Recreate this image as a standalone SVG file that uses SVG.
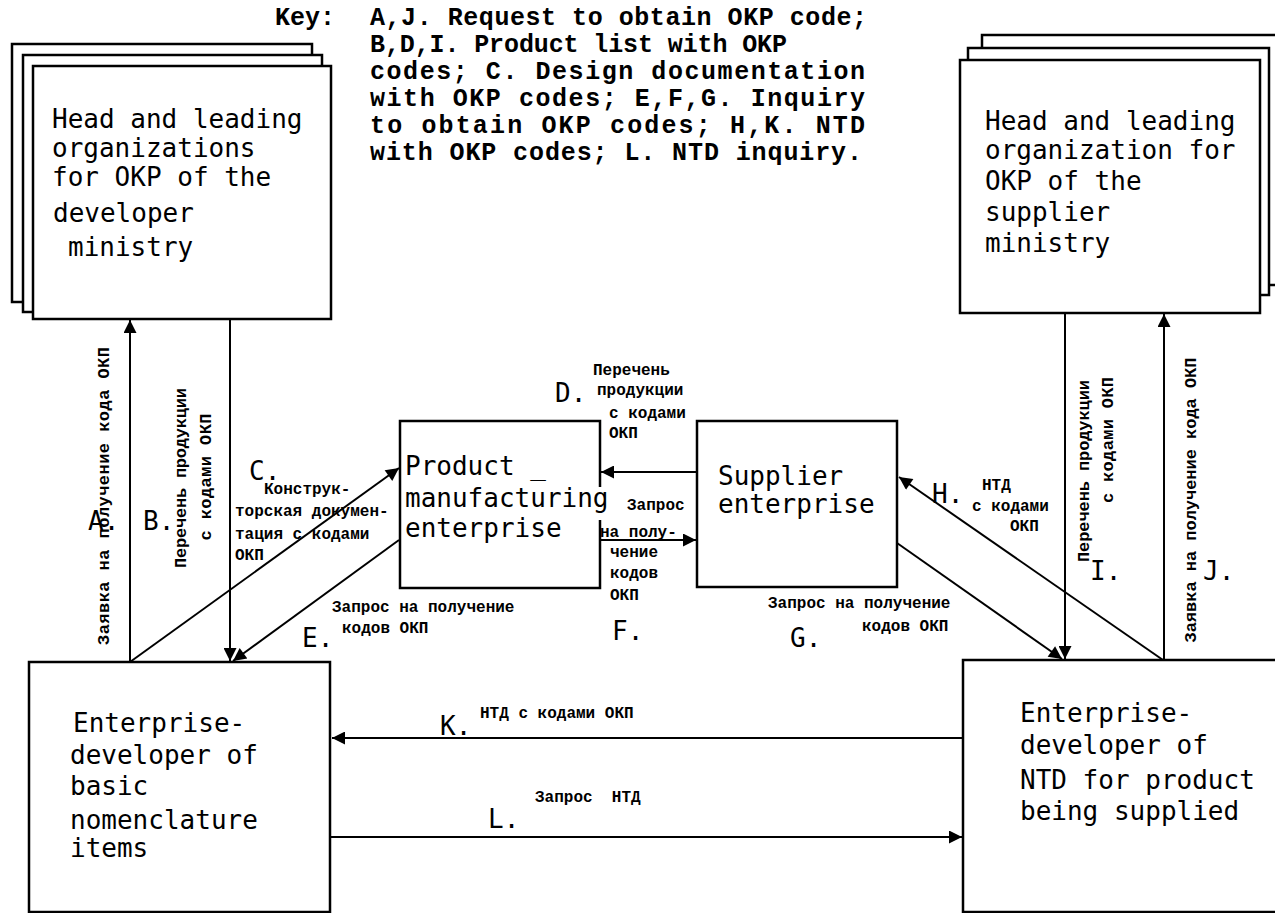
<svg xmlns="http://www.w3.org/2000/svg" width="1275" height="913" viewBox="0 0 1275 913">
<style>
.box{fill:#fff;stroke:#000;stroke-width:2.5}
.bt{font-family:"DejaVu Sans Mono",monospace;font-size:26px;fill:#000}
.key{font-family:"Liberation Mono",monospace;font-weight:bold;font-size:25px;fill:#000}
.lab{font-family:"Liberation Mono",monospace;font-weight:bold;font-size:16px;fill:#000}
.rot{font-family:"Liberation Mono",monospace;font-weight:bold;font-size:17px;fill:#000}
.let{font-family:"DejaVu Sans Mono",monospace;font-size:26px;fill:#000}
.c{stroke:#000;stroke-width:2;fill:none;marker-end:url(#ah)}
</style>
<defs>
<marker id="ah" viewBox="0 0 10 10" refX="10" refY="5" markerWidth="17" markerHeight="13" markerUnits="userSpaceOnUse" orient="auto"><path d="M0,0 L10,5 L0,10 z" fill="#000"/></marker>
</defs>
<rect width="1275" height="913" fill="#fff"/>

<g id="key">
<text class="key" x="275" y="25">Key:</text>
<text class="key" x="370" y="25" textLength="497">A,J. Request to obtain OKP code;</text>
<text class="key" x="370" y="52" textLength="417">B,D,I. Product list with OKP</text>
<text class="key" x="370" y="79" textLength="495">codes; C. Design documentation</text>
<text class="key" x="370" y="106" textLength="495">with OKP codes; E,F,G. Inquiry</text>
<text class="key" x="370" y="133" textLength="495">to obtain OKP codes; H,K. NTD</text>
<text class="key" x="370" y="160" textLength="492">with OKP codes; L. NTD inquiry.</text>
</g>

<g id="dev-ministry">
<rect class="box" x="12" y="44" width="300" height="258"/>
<rect class="box" x="23" y="55" width="299" height="257"/>
<rect class="box" x="33" y="66" width="298" height="253"/>
<text class="bt" x="52" y="128">Head and leading</text>
<text class="bt" x="52" y="157">organizations</text>
<text class="bt" x="52" y="186">for OKP of the</text>
<text class="bt" x="53" y="222">developer</text>
<text class="bt" x="68" y="256">ministry</text>
</g>

<g id="sup-ministry">
<rect class="box" x="982" y="35" width="300" height="250"/>
<rect class="box" x="968" y="48" width="301" height="247"/>
<rect class="box" x="960" y="60" width="300" height="253"/>
<text class="bt" x="985" y="130">Head and leading</text>
<text class="bt" x="985" y="159">organization for</text>
<text class="bt" x="985" y="190">OKP of the</text>
<text class="bt" x="985" y="221">supplier</text>
<text class="bt" x="985" y="252">ministry</text>
</g>

<g id="manufacturer">
<path d="M600,487 V421 H400 V588 H600 V520" fill="#fff" stroke="#000" stroke-width="2.5"/>
<text class="bt" x="405" y="475">Product _</text>
<text class="bt" x="405" y="507">manufacturing</text>
<text class="bt" x="405" y="537">enterprise</text>
</g>

<g id="supplier">
<rect class="box" x="697" y="421" width="200" height="166"/>
<text class="bt" x="718" y="485">Supplier</text>
<text class="bt" x="718" y="513">enterprise</text>
</g>

<g id="basic-developer">
<rect class="box" x="29" y="662" width="301" height="250"/>
<text class="bt" x="73" y="732">Enterprise-</text>
<text class="bt" x="70" y="764">developer of</text>
<text class="bt" x="70" y="795">basic</text>
<text class="bt" x="70" y="829">nomenclature</text>
<text class="bt" x="70" y="857">items</text>
</g>

<g id="ntd-developer">
<rect class="box" x="963" y="660" width="330" height="252"/>
<text class="bt" x="1020" y="722">Enterprise-</text>
<text class="bt" x="1020" y="754">developer of</text>
<text class="bt" x="1020" y="789">NTD for product</text>
<text class="bt" x="1020" y="820">being supplied</text>
</g>

<g id="connectors">
<line class="c" x1="130" y1="662" x2="130" y2="320"/>
<line class="c" x1="230" y1="319" x2="230" y2="661"/>
<line class="c" x1="130" y1="662" x2="399" y2="468"/>
<line class="c" x1="399" y1="540" x2="233" y2="661"/>
<line class="c" x1="697" y1="472" x2="601" y2="472"/>
<line class="c" x1="600" y1="540" x2="696" y2="540"/>
<line class="c" x1="897" y1="543" x2="1062" y2="659"/>
<line class="c" x1="1163" y1="660" x2="899" y2="477"/>
<line class="c" x1="1065" y1="313" x2="1065" y2="659"/>
<line class="c" x1="1164" y1="660" x2="1164" y2="314"/>
<line class="c" x1="963" y1="738" x2="332" y2="738"/>
<line class="c" x1="330" y1="837" x2="962" y2="837"/>

<text class="let" x="88" y="530">A.</text>
<text class="let" x="143" y="530">B.</text>
<text class="let" x="249" y="480">C.</text>
<text class="let" x="555" y="402">D.</text>
<text class="let" x="302" y="647">E.</text>
<text class="let" x="612" y="640">F.</text>
<text class="let" x="790" y="647">G.</text>
<text class="let" x="932" y="503">H.</text>
<text class="let" x="1090" y="580">I.</text>
<text class="let" x="1203" y="580">J.</text>
<text class="let" x="440" y="735">K.</text>
<text class="let" x="488" y="828">L.</text>

<text class="rot" transform="translate(109,496) rotate(-90)" text-anchor="middle" textLength="298">Заявка на получение кода ОКП</text>
<text class="rot" transform="translate(186,478) rotate(-90)" text-anchor="middle" textLength="180">Перечень продукции</text>
<text class="rot" transform="translate(211,477) rotate(-90)" text-anchor="middle" textLength="127">с кодами ОКП</text>
<text class="rot" transform="translate(1089,471) rotate(-90)" text-anchor="middle" textLength="182">Перечень продукции</text>
<text class="rot" transform="translate(1113,440) rotate(-90)" text-anchor="middle" textLength="126">с кодами ОКП</text>
<text class="rot" transform="translate(1196,500) rotate(-90)" text-anchor="middle" textLength="285">Заявка на получение кода ОКП</text>

<text class="lab" x="264" y="494">Конструк-</text>
<text class="lab" x="235" y="516">торская докумен-</text>
<text class="lab" x="235" y="539">тация с кодами</text>
<text class="lab" x="235" y="560">ОКП</text>

<text class="lab" x="593" y="375">Перечень</text>
<text class="lab" x="597" y="395">продукции</text>
<text class="lab" x="609" y="418">с кодами</text>
<text class="lab" x="609" y="438">ОКП</text>

<text class="lab" x="627" y="510">Запрос</text>
<text class="lab" x="600" y="537">на полу-</text>
<text class="lab" x="610" y="557">чение</text>
<text class="lab" x="610" y="578">кодов</text>
<text class="lab" x="610" y="600">ОКП</text>

<text class="lab" x="332" y="612">Запрос на получение</text>
<text class="lab" x="342" y="633">кодов ОКП</text>

<text class="lab" x="768" y="608">Запрос на получение</text>
<text class="lab" x="862" y="631">кодов ОКП</text>

<text class="lab" x="982" y="490">НТД</text>
<text class="lab" x="972" y="511">с кодами</text>
<text class="lab" x="1010" y="531">ОКП</text>

<text class="lab" x="480" y="718">НТД с кодами ОКП</text>
<text class="lab" x="535" y="802" xml:space="preserve">Запрос  НТД</text>
</g>
</svg>
